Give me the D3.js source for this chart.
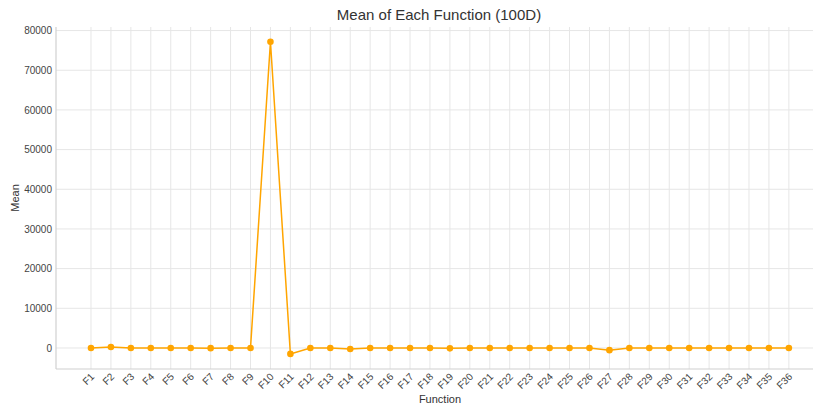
<!DOCTYPE html>
<html>
<head>
<meta charset="utf-8">
<script src="https://cdn.jsdelivr.net/npm/d3@7"></script>
<style>
  body { margin: 0; background: #fff; }
  svg { display: block; font-family: "Liberation Sans", Arial, sans-serif; }
</style>
</head>
<body>
<div id="chart"></div>
<script>
// function names F1..F36
const functions = ["F1","F2","F3","F4","F5","F6","F7","F8","F9","F10","F11","F12",
  "F13","F14","F15","F16","F17","F18","F19","F20","F21","F22","F23","F24",
  "F25","F26","F27","F28","F29","F30","F31","F32","F33","F34","F35","F36"];
// mean values
const means = [0, 250, 0, 0, 0, 0, -50, 0, 0, 77200, -1500, 0,
  0, -250, 0, 0, 0, 0, -100, 0, 0, 0, 0, 0,
  0, 0, -550, 0, 0, 0, 0, 0, 0, 0, 0, 0];
const yTicks = [0, 10000, 20000, 30000, 40000, 50000, 60000, 70000, 80000];

const w = 814, h = 408;
const margin = {top: 27, right: 1, bottom: 39, left: 56};
const width = w - margin.left - margin.right;
const height = h - margin.top - margin.bottom;

const svg = d3.select("#chart").append("svg")
  .attr("width", w)
  .attr("height", h);

const g = svg.append("g")
  .attr("transform", "translate(" + margin.left + "," + margin.top + ")");

// index scale so F1 sits at x=91 and F36 at x=789
const xScale = d3.scaleLinear()
  .domain([-1.755, 36.21])
  .range([0, width]);
const yScale = d3.scaleLinear()
  .domain([-5300, 80900])
  .range([height, 0]);

// grid
g.append("g")
  .selectAll("line.hgrid")
  .data(yTicks)
  .enter().append("line")
  .attr("x1", 0).attr("x2", width)
  .attr("y1", d => yScale(d)).attr("y2", d => yScale(d))
  .attr("stroke", "#e6e6e6").attr("stroke-width", 1);
g.append("g")
  .selectAll("line.vgrid")
  .data(functions)
  .enter().append("line")
  .attr("x1", (d, i) => xScale(i)).attr("x2", (d, i) => xScale(i))
  .attr("y1", 0).attr("y2", height)
  .attr("stroke", "#e6e6e6").attr("stroke-width", 1);

// y axis
const yAxis = d3.axisLeft(yScale).tickValues(yTicks).tickSize(0).tickPadding(4).tickFormat(d3.format("d"));
g.append("g")
  .attr("id", "y-axis")
  .call(yAxis)
  .call(a => a.select(".domain").remove())
  .selectAll("text")
  .style("font-size", "10px")
  .attr("fill", "#444");

// x axis
const xAxis = d3.axisBottom(xScale)
  .tickValues(d3.range(functions.length))
  .tickSize(0)
  .tickFormat(i => functions[i]);
const xg = g.append("g")
  .attr("id", "x-axis")
  .attr("transform", "translate(0," + height + ")")
  .call(xAxis);
xg.select(".domain").remove();
xg.selectAll("text")
  .style("font-size", "10px")
  .attr("fill", "#444")
  .style("text-anchor", "end")
  .attr("dx", "0.3em")
  .attr("dy", "0.2em")
  .attr("transform", "translate(0,9) rotate(-45)")
  .attr("y", 0);

// spines
g.append("line")
  .attr("x1", 0).attr("x2", 0).attr("y1", 0).attr("y2", height)
  .attr("stroke", "#d0d0d0").attr("stroke-width", 1.2);
g.append("line")
  .attr("x1", 0).attr("x2", width).attr("y1", height).attr("y2", height)
  .attr("stroke", "#d0d0d0").attr("stroke-width", 1.2);

// line + markers
const line = d3.line()
  .x((d, i) => xScale(i))
  .y(d => yScale(d));
g.append("path")
  .datum(means)
  .attr("d", line)
  .attr("fill", "none")
  .attr("stroke", "#ffa500")
  .attr("stroke-width", 1.5);
g.selectAll("circle")
  .data(means)
  .enter().append("circle")
  .attr("cx", (d, i) => xScale(i))
  .attr("cy", d => yScale(d))
  .attr("r", 3.3)
  .attr("fill", "#ffa500");

// title and labels
svg.append("text")
  .attr("x", 439)
  .attr("y", 20)
  .style("text-anchor", "middle")
  .style("font-size", "15px")
  .attr("fill", "#333")
  .text("Mean of Each Function (100D)");
svg.append("text")
  .attr("x", 440)
  .attr("y", 403)
  .style("text-anchor", "middle")
  .style("font-size", "11px")
  .attr("fill", "#333")
  .text("Function");
svg.append("text")
  .attr("transform", "translate(19,198) rotate(-90)")
  .style("text-anchor", "middle")
  .style("font-size", "11px")
  .attr("fill", "#333")
  .text("Mean");
</script>
</body>
</html>
